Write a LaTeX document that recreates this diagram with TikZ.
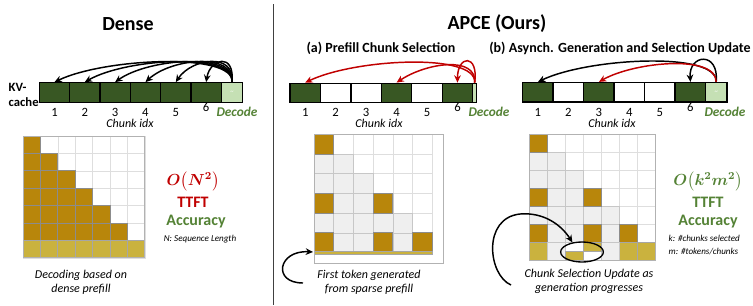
\documentclass[tikz,border=0pt]{standalone}
\usepackage{amsmath,bm}
\usepackage{fontspec}
\setmainfont{Carlito}
\usetikzlibrary{arrows.meta,shapes.geometric}

\definecolor{kvDark}{RGB}{56,87,35}
\definecolor{kvLight}{RGB}{197,224,180}
\definecolor{apceRed}{RGB}{192,0,0}
\definecolor{accGreen}{RGB}{84,130,53}
\definecolor{goldDark}{RGB}{184,134,11}
\definecolor{goldLight}{RGB}{202,178,62}
\definecolor{cellGrey}{RGB}{239,239,239}

\begin{document}
\begin{tikzpicture}[x=0.75pt,y=-0.75pt,
   chunk/.style={draw=black, line width=1pt, fill=white, inner sep=0pt,
                 minimum width=22.8pt, minimum height=14.6pt},
   kept/.style={chunk, fill=kvDark},
   dec/.style={chunk, fill=kvLight, minimum width=16pt},
   dep/.style={-{Stealth[length=5.5pt,width=5pt]}, line width=1.1pt},
   wcell/.style={draw=black!13, fill=white, line width=0.4pt},
   hcell/.style={draw=black!22, fill=cellGrey, line width=0.4pt},
   pcell/.style={draw=black!45, fill=goldDark, line width=0.5pt},
   tcell/.style={draw=black!35, fill=goldLight, line width=0.5pt},
   mframe/.style={draw=black!30, line width=0.6pt},
   ttl/.style={font=\fontsize{15}{18}\selectfont\bfseries},
   sub/.style={font=\fontsize{10.5}{12}\selectfont\bfseries},
   num/.style={font=\fontsize{9.5}{11}\selectfont},
   decl/.style={font=\fontsize{10}{12}\selectfont\bfseries\itshape, text=accGreen},
   idx/.style={font=\fontsize{9}{10}\selectfont\itshape},
   captxt/.style={font=\fontsize{9}{10.5}\selectfont\itshape, align=center},
   cost/.style={font=\fontsize{12}{14}\selectfont},
   big/.style={font=\fontsize{12}{14}\selectfont\bfseries},
   note/.style={font=\fontsize{6.8}{9.75}\selectfont\itshape, align=left}]

  \useasboundingbox (0,0) rectangle (753,305);

  % ===== Dense =====
  \node[ttl] (tdense) at (128,24) {Dense};
  \node[font=\fontsize{9.5}{11.25}\selectfont\bfseries, align=left, anchor=west]
        (kv) at (4,95) {KV-\\cache};
  \foreach \i in {1,...,6}{
    \node[kept] (d\i) at ({39.3+30.33*(\i-0.5)},92.5) {};
    \node[num] (d\i n) at ({39.3+30.33*(\i-0.5)},{112.5-5*(\i==6)}) {\i};
  }
  \node[dec] (d7) at (232,92.5) {\color{white}\fontsize{5}{5}\selectfont\textasciitilde};
  \node[decl] (ddec) at (237,112) {Decode};
  \node[idx] (didx) at (130,123) {Chunk idx};
  \foreach \i/\a in {1/50,2/42,3/34,4/26,5/16,6/4}
    \draw[dep] (d7.north) .. controls +(3,-30) and +(\a,-24) .. (d\i.north);

  % matrice dense
  \foreach \r in {0,...,6}
    \foreach \c in {0,...,6}
      \draw[wcell] ({23+17.4*\c},{136+17.4*\r}) rectangle ++(17.4,17.4);
  \foreach \r in {0,...,5}
    \foreach \c in {0,...,\r}
      \draw[pcell] ({23+17.4*\c},{136+17.4*\r}) rectangle ++(17.4,17.4);
  \foreach \c in {0,...,6}
    \draw[tcell] ({23+17.4*\c},{240.4}) rectangle ++(17.4,17.4);
  \draw[mframe] (23,136) rectangle (144.8,257.8);

  \node[cost, text=apceRed] (dcost) at (193,181) {$\bm{O\big(N^2\big)}$};
  \node[big, text=apceRed] (dttft) at (193,202) {TTFT};
  \node[big, text=accGreen] (dacc) at (196,222) {Accuracy};
  \node[note] (dnote) at (200,239) {N: Sequence Length};
  \node[captxt] (dcap) at (81,282) {Decoding based on\\dense prefill};

  % ===== séparation =====
  \draw[draw=black!75, line width=1.1pt] (273.5,4) -- (273.5,305);

  % ===== APCE (Ours) =====
  \node[ttl] (tapce) at (497,24) {APCE (Ours)};

  % (a) sélection des chunks au prefill
  \node[sub] (ta) at (381,48) {(a) Prefill Chunk Selection};
  \foreach \i/\s in {1/kept,2/chunk,3/chunk,4/kept,5/chunk,6/kept}{
    \node[\s] (a\i) at ({290+30.45*(\i-0.5)},93) {};
    \node[num] (a\i n) at ({290+30.45*(\i-0.5)},{112.5-5*(\i==6)}) {\i};
  }
  \node[dec, minimum width=3pt] (a7) at (474.7,93) {};
  \node[decl] (adec) at (489,112) {Decode};
  \node[idx] (aidx) at (379,123) {Chunk idx};
  \draw[dep, apceRed] (a7.north) .. controls +(2,-30) and +(50,-24) .. (a1.north);
  \draw[dep, apceRed] (a7.north) .. controls +(2,-27) and +(30,-20) .. (a4.north);
  \draw[dep, apceRed] (a7.north) .. controls +(4,-29) and +(0,-28) .. (a6.north);

  % matrice (a)
  \foreach \r in {0,...,5}
    \foreach \c in {0,...,5}
      \draw[wcell] ({314+19.7*\c},{134.3+19.7*\r}) rectangle ++(19.7,19.7);
  \foreach \r in {0,...,5}
    \foreach \c in {0,...,\r}
      \draw[hcell] ({314+19.7*\c},{134.3+19.7*\r}) rectangle ++(19.7,19.7);
  \foreach \r/\c in {0/0,3/0,3/3,5/0,5/3,5/5}
    \draw[pcell] ({314+19.7*\c},{134.3+19.7*\r}) rectangle ++(19.7,19.7);
  \draw[tcell] (314,251.5) rectangle (432.5,254);
  \draw[mframe] (314,134) rectangle (443,263);

  \coordinate (astart) at (303,283);
  \coordinate (atok) at (313,252);
  \draw[dep] (astart) .. controls (272,283) and (278,250) .. (atok);
  \node[captxt] (acap) at (369,282) {First token generated\\from sparse prefill};

  % (b) génération asynchrone + mise à jour
  \node[sub] (tb) at (620,48) {(b) Asynch. Generation and Selection Update};
  \foreach \i/\s in {1/kept,2/chunk,3/kept,4/chunk,5/chunk,6/kept}{
    \node[\s] (b\i) at ({522.7+30.5*(\i-0.5)},92.3) {};
    \node[num] (b\i n) at ({522.7+30.5*(\i-0.5)},{112.5-5*(\i==6)}) {\i};
  }
  \node[dec] (b7) at (716.2,92.3) {\color{white}\fontsize{5}{5}\selectfont\textasciitilde};
  \node[decl] (bdec) at (725,112) {Decode};
  \node[idx] (bidx) at (612,123) {Chunk idx};
  \draw[dep] (b7.north) .. controls +(2,-31) and +(50,-24) .. (b1.north);
  \draw[dep] (b7.north) .. controls +(3,-31) and +(-2,-28) .. (b6.north);
  \draw[dep, apceRed] (b7.north) .. controls +(0,-28) and +(35,-20) .. (b3.north);

  % matrice (b)
  \foreach \r in {0,...,6}
    \foreach \c in {0,...,6}
      \draw[wcell] ({529+18.1*\c},{134+18.1*\r}) rectangle ++(18.1,18.1);
  \foreach \r in {0,...,5}
    \foreach \c in {0,...,\r}
      \draw[hcell] ({529+18.1*\c},{134+18.1*\r}) rectangle ++(18.1,18.1);
  \foreach \r/\c in {0/0,3/0,3/3,5/0,5/3,5/5}
    \draw[pcell] ({529+18.1*\c},{134+18.1*\r}) rectangle ++(18.1,18.1);
  \foreach \c in {0,5,6}
    \draw[tcell] ({529+18.1*\c},242.6) rectangle ++(18.1,18.1);
  \draw[hcell] (547.1,242.6) rectangle ++(18.1,18.1);
  \draw[hcell] (601.4,242.6) rectangle ++(18.1,18.1);
  \draw[tcell] (565.2,251.6) rectangle ++(18.1,9.1);
  \draw[tcell] (583.3,242.6) rectangle ++(18.1,9);
  \draw[mframe] (529,134) rectangle (655.7,260.7);

  \node[draw, ellipse, line width=1pt, minimum width=32pt, minimum height=15pt,
        inner sep=0pt] (ring) at (582,252) {};
  \coordinate (bstart) at (511,285);
  \draw[dep] (bstart) .. controls (488,275) and (482,218) .. (520,214)
                      .. controls (545,212) and (562,226) .. (ring.135);
  \node[captxt] (bcap) at (589,281) {Chunk Selection Update as\\generation progresses};

  \node[cost, text=accGreen] (bcost) at (708,181) {$\bm{O\big(k^2m^2\big)}$};
  \node[big, text=accGreen] (bttft) at (708,202) {TTFT};
  \node[big, text=accGreen] (bacc) at (708,222) {Accuracy};
  \node[note, anchor=west] (bnote) at (664,245.5) {k: \#chunks selected\\m: \#tokens/chunks};

\end{tikzpicture}
\end{document}
